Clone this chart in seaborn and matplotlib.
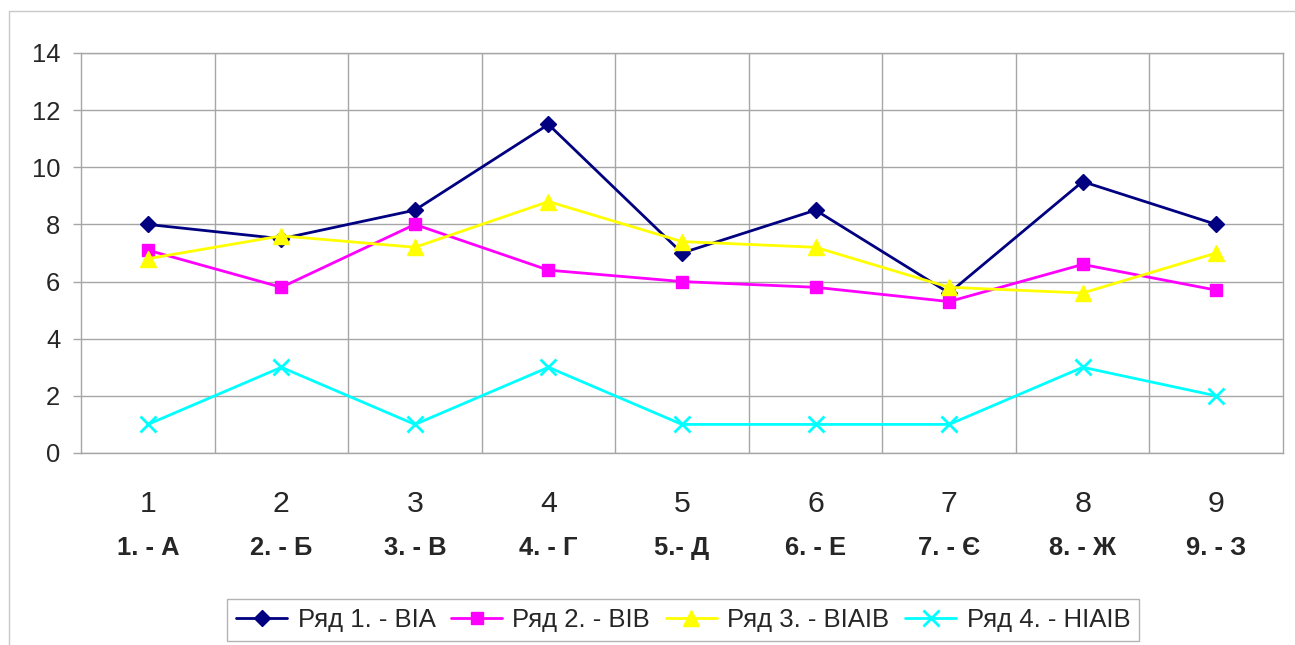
import matplotlib
matplotlib.use("Agg")
import matplotlib.pyplot as plt
import matplotlib.transforms as mtransforms
from matplotlib.patches import Rectangle
import seaborn as sns
import numpy as np

# ---- data ----
positions = [1, 2, 3, 4, 5, 6, 7, 8, 9]
category_labels = ["1. - А", "2. - Б", "3. - В", "4. - Г", "5.- Д", "6. - Е", "7. - Є", "8. - Ж", "9. - З"]
series1 = [8.0, 7.5, 8.5, 11.5, 7.0, 8.5, 5.6, 9.5, 8.0]
series2 = [7.1, 5.8, 8.0, 6.4, 6.0, 5.8, 5.3, 6.6, 5.7]
series3 = [6.8, 7.6, 7.2, 8.8, 7.4, 7.2, 5.8, 5.6, 7.0]
series4 = [1, 3, 1, 3, 1, 1, 1, 3, 2]
series_names = ["Ряд 1. - ВІА", "Ряд 2. - ВІВ", "Ряд 3. - ВІАІВ", "Ряд 4. - НІАІВ"]
y_ticks = [0, 2, 4, 6, 8, 10, 12, 14]

sns.set_style("white")
plt.rcParams['font.family'] = ['Liberation Sans', 'DejaVu Sans']

W, H = 1295, 645
fig = plt.figure(figsize=(W / 100, H / 100), dpi=100)
fig.patch.set_facecolor("white")
ax = fig.add_axes([81 / W, (H - 453) / H, 1202 / W, 400 / H])
ax.set_facecolor("white")

styles = [
    dict(color="#000080", marker="D", markersize=8),
    dict(color="#ff00ff", marker="s", markersize=9),
    dict(color="#ffff00", marker="^", markersize=11),
    dict(color="#00ffff", marker="x", markersize=11, markeredgewidth=2),
]
for vals, name, st in zip([series1, series2, series3, series4], series_names, styles):
    sns.lineplot(x=positions, y=vals, ax=ax, label=name, linewidth=2,
                 color=st["color"], marker=st["marker"], markersize=st["markersize"],
                 markeredgecolor=st["color"], markerfacecolor=st["color"],
                 markeredgewidth=st.get("markeredgewidth", 1), zorder=3)

grid_c = "#a6a6a6"
ax.set_xlim(0.5, 9.5)
ax.set_ylim(0, 14)
ax.set_yticks(y_ticks)
ax.set_yticklabels([str(v) for v in y_ticks], fontsize=18.4)
ax.set_xticks(positions)
ax.set_xticklabels([str(p) for p in positions], fontsize=21.8)
ax.set_xticks([p + 0.5 for p in positions[:-1]], minor=True)
ax.tick_params(axis="x", which="major", length=0, pad=26.5)
ax.tick_params(axis="x", which="minor", length=6, color=grid_c, width=1, direction="out")
ax.tick_params(axis="y", which="major", length=6, color=grid_c, width=1, pad=9, left=True)
ax.grid(True, axis="y", which="major", color=grid_c, linewidth=1)
ax.grid(True, axis="x", which="minor", color=grid_c, linewidth=1)
ax.grid(False, axis="x", which="major")
for s in ["left", "bottom", "right", "top"]:
    ax.spines[s].set_visible(True)
    ax.spines[s].set_color(grid_c)
    ax.spines[s].set_linewidth(1)

trans = mtransforms.blended_transform_factory(ax.transData, ax.transAxes)
for p, lab in zip(positions, category_labels):
    ax.text(p, -95 / 400, lab, transform=trans, ha="center", va="center",
            fontsize=18.4, fontweight="bold")

ax.get_legend().remove()
handles, labels = ax.get_legend_handles_labels()
leg = fig.legend(handles, labels, loc="center", bbox_to_anchor=(683 / W, 1 - 620 / H),
                 ncol=4, fontsize=18.5, frameon=True, fancybox=False, edgecolor="#a0a0a0",
                 handlelength=2.0, handletextpad=0.4, columnspacing=0.6,
                 borderpad=0.35, borderaxespad=0)
leg.get_frame().set_linewidth(1)

fig.patches.append(Rectangle((9 / W, -0.1), 1.2, (H - 11) / H + 0.1, transform=fig.transFigure,
                             fill=False, edgecolor="#c8c8c8", linewidth=1))

fig.savefig("out.png", dpi=100, facecolor="white")
